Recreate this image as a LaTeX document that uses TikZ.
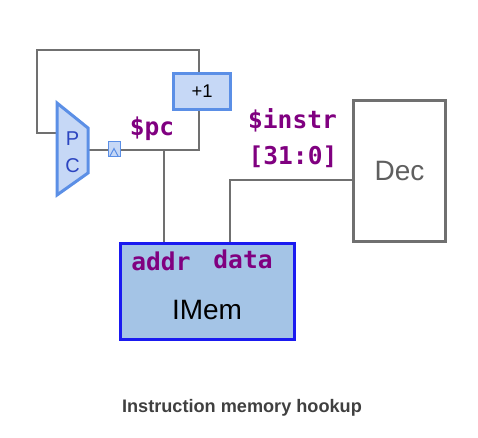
\documentclass[tikz,border=0pt]{standalone}
\usepackage{fontspec}
\setmainfont{Liberation Sans}
\newfontfamily\sigfont{DejaVu Sans Mono}
\definecolor{wiregray}{HTML}{707070}
\definecolor{pcblue}{HTML}{5B8FE6}
\definecolor{pcfill}{HTML}{C6D8F6}
\definecolor{memblue}{HTML}{1A1AF0}
\definecolor{memfill}{HTML}{A4C4E6}
\definecolor{sigpurple}{HTML}{800080}
\definecolor{captext}{HTML}{404040}
\begin{document}
\begin{tikzpicture}[x=0.75pt,y=-0.75pt,
  wire/.style={draw=wiregray,line width=1.5pt},
  unit/.style={rectangle,draw=pcblue,fill=pcfill,line width=2.25pt},
  sig/.style={text=sigpurple,font=\sigfont\bfseries\fontsize{18.4}{20}\selectfont}]
\useasboundingbox (0,0) rectangle (478,437);
% blocks
\node[unit,minimum width=42.75pt,minimum height=27pt,font=\fontsize{13.8}{15}\selectfont] (inc) at (202,91.5) {+1};
\node[rectangle,draw=wiregray,fill=white,line width=2.25pt,minimum width=69pt,minimum height=105.75pt,
      text=wiregray!85!black,font=\fontsize{21}{24}\selectfont] (dec) at (399.5,171) {Dec};
\node[rectangle,draw=memblue,fill=memfill,line width=2.25pt,minimum width=130.5pt,minimum height=72pt] (imem) at (207.5,291.5) {};
\node[font=\fontsize{21}{24}\selectfont] (imemlbl) at (207,310) {IMem};
\node[sig] (addr) at (161,261) {addr};
\node[sig] (data) at (243,259) {data};
% pc register
\coordinate (pcin) at (57,133);
\coordinate (pcout) at (88,149.5);
\coordinate (pcturn) at (199,149.5);
\coordinate (addrtap) at (164,149.5);
\coordinate (addrin) at (164,242);
\coordinate (datain) at (230,242);
\coordinate (looptl) at (37,50);
\coordinate (loopbl) at (37,133);
\draw[wire] ([xshift=-2.25pt]inc.north) |- (looptl) -- (loopbl) -- (pcin);
\draw[wire] (pcout) -- (pcturn) -- ([xshift=-2.25pt]inc.south);
\draw[wire] (addrtap) -- (addrin);
\draw[wire] ([yshift=-6.75pt]dec.west) -| (datain);
\draw[draw=pcblue,fill=pcfill,line width=2.25pt] (57,103) -- (88,128) -- (88,173) -- (57,195) -- cycle;
\node[text=pcblue!60!blue!80!black,font=\fontsize{15}{17}\selectfont] (pcp) at (72.5,139) {P};
\node[text=pcblue!60!blue!80!black,font=\fontsize{15}{17}\selectfont] (pcc) at (72.5,166) {C};
\node[rectangle,draw=pcblue,fill=pcfill,line width=0.75pt,minimum width=9pt,minimum height=11.25pt,inner sep=0pt] (ff) at (114,148.5) {};
\draw[draw=pcblue,line width=0.75pt] ([xshift=-3.2pt]ff.south) -- ([yshift=6pt]ff.south) -- ([xshift=3.2pt]ff.south);
% signal names
\node[sig] (pcname) at (152,129) {\$pc};
\node[sig] (instr) at (292.5,120) {\$instr};
\node[sig] (bits) at (293,157) {[31:0]};
\node[text=captext,font=\bfseries\fontsize{13.6}{15}\selectfont] (caption) at (242,408) {Instruction memory hookup};
\end{tikzpicture}
\end{document}
